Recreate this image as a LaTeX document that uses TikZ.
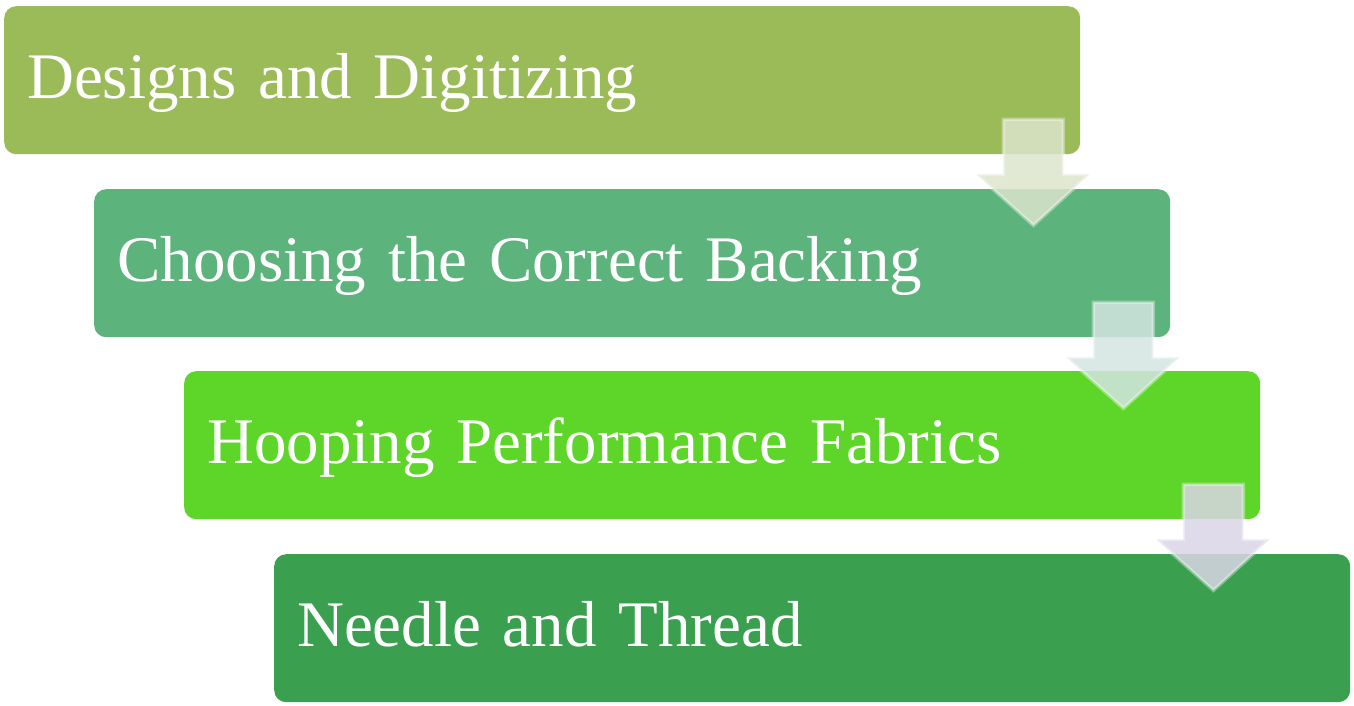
\documentclass[tikz,border=0pt]{standalone}
\usepackage{fontspec}
\setmainfont{Liberation Serif}
\usetikzlibrary{calc}

\definecolor{boxA}{HTML}{9BBB59}
\definecolor{boxB}{HTML}{5CB37C}
\definecolor{boxC}{HTML}{5ED629}
\definecolor{boxD}{HTML}{3AA050}
\definecolor{flechaA}{HTML}{DCE5CC}
\definecolor{flechaB}{HTML}{D3E5E2}
\definecolor{flechaC}{HTML}{DAD5E6}

\begin{document}
\begin{tikzpicture}[x=1pt,y=-1pt,
  paso/.style={rectangle,rounded corners=12pt,anchor=north west,
    minimum width=1076pt,minimum height=148pt,text width=1030pt,
    text height=44pt,text depth=8pt,
    inner sep=23pt,align=left,text=white,
    font=\fontsize{65}{72}\selectfont},
  flecha/.style={fill opacity=0.85,draw=white,draw opacity=0.35,line width=3.5pt,line join=miter}]
  \useasboundingbox (0,0) rectangle (1354,706);
  % cajas escalonadas
  \node[paso,fill=boxA] (b1) at (4,6)     {Designs and Digitizing};
  \node[paso,fill=boxB] (b2) at (94,189)  {Choosing the Correct Backing};
  \node[paso,fill=boxC] (b3) at (184,371) {Hooping Performance Fabrics};
  \node[paso,fill=boxD] (b4) at (274,554) {Needle and Thread};
  % flechas entre cajas
  \foreach \a/\c in {b1/flechaA,b2/flechaB,b3/flechaC}{
    \draw[flecha,fill=\c]
      ($(\a.south east)+(-77,-35)$) -- ($(\a.south east)+(-17,-35)$)
      -- ($(\a.south east)+(-17,20)$) -- ($(\a.south east)+(9,20)$)
      -- ($(\a.south east)+(-47,71)$) -- ($(\a.south east)+(-104,20)$)
      -- ($(\a.south east)+(-77,20)$) -- cycle;
  }
\end{tikzpicture}
\end{document}
